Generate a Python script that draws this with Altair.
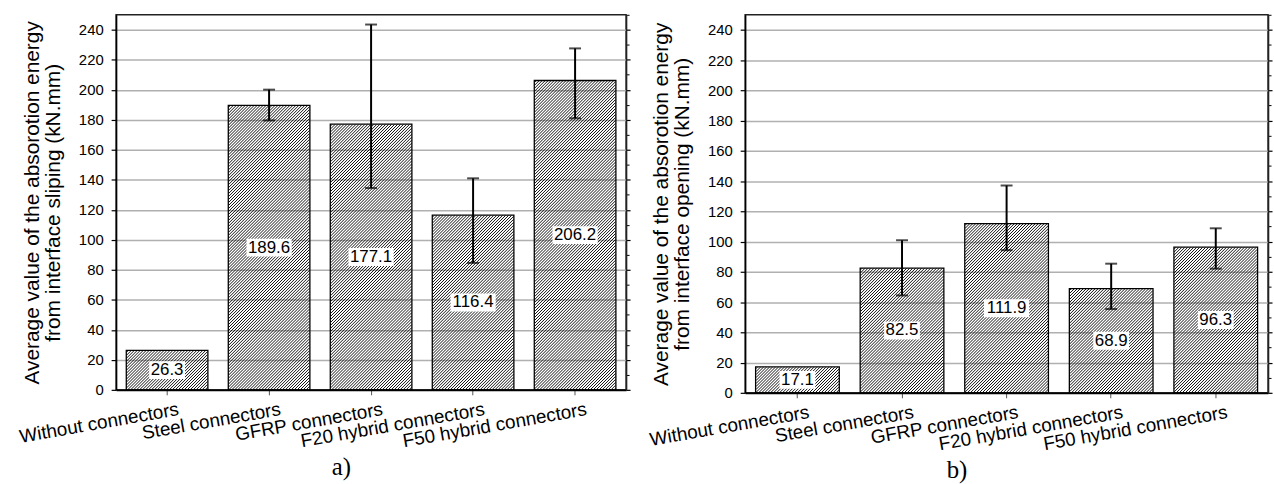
import altair as alt
import pandas as pd

categories = ["Without connectors", "Steel connectors", "GFRP connectors",
              "F20 hybrid connectors", "F50 hybrid connectors"]

slip_values = [26.3, 189.6, 177.1, 116.4, 206.2]
slip_err_low = [None, 179.6, 134.5, 84.6, 181.0]
slip_err_high = [None, 200.1, 243.5, 141.0, 227.6]

open_values = [17.1, 82.5, 111.9, 68.9, 96.3]
open_err_low = [None, 64.4, 94.3, 55.4, 82.1]
open_err_high = [None, 100.9, 137.1, 85.4, 108.8]

y_major = list(range(0, 241, 20))
y_minor = list(range(10, 251, 20))
y_max = 250

slip_title = ["Average value of the absorotion energy", "from interface sliping (kN.mm)"]
open_title = ["Average value of the absorotion energy", "from interface opening (kN.mm)"]

FONT = "Liberation Sans"
LABEL_FS = 17


def hatch_path(w, h, period=3.0):
    """SVG path of '/' hatch lines filling a w x h box centred on (0, 0)."""
    parts = []
    s = period / 2
    while s < w + h:
        u1 = min(s, w)
        v1 = s - u1
        v2 = min(s, h)
        u2 = s - v2
        parts.append(f"M{u1 - w / 2:.2f},{v1 - h / 2:.2f}L{u2 - w / 2:.2f},{v2 - h / 2:.2f}")
        s += period
    return "".join(parts)


def text_width(s, fs):
    return sum((0.278 if ch == "." else 0.556) for ch in s) * fs


def panel(values, lo, hi, ytitle, caption, W, H, cap_dx):
    labels = [f"{v:.1f}" for v in values]
    step = W / 5.0
    bw = step * 0.8
    boxes, hatches = [], []
    for v, s in zip(values, labels):
        half_w = (text_width(s, LABEL_FS) + 3) / 2
        half_h = 9
        boxes.append(f"M{-half_w},{-half_h}L{half_w},{-half_h}L{half_w},{half_h}L{-half_w},{half_h}Z")
        hatches.append(hatch_path(bw - 0.6, v / y_max * H - 0.6))
    df = pd.DataFrame({"cat": categories, "val": values, "lo": lo, "hi": hi,
                       "label": labels, "box": boxes, "hatch": hatches})
    base = alt.Chart(df).transform_calculate(mid="datum.val / 2")

    xenc = alt.X("cat:N", title=None,
                 scale=alt.Scale(domain=categories, paddingInner=0.2, paddingOuter=0.1),
                 axis=alt.Axis(labelAngle=-10, labelAlign="right", labelBaseline="top",
                               labelFontSize=19, labelFont=FONT, labelColor="black",
                               labelLimit=400, labelOverlap=False,
                               labelPadding=5, labelOffset=10, tickSize=5, tickColor="#555555",
                               domainColor="black", domainWidth=2, grid=False))
    yscale = alt.Scale(domain=[0, y_max], nice=False)

    major_axis = alt.Axis(values=y_major, title=ytitle, titleFontSize=21,
                          titleFont=FONT, titleFontWeight="normal", titleColor="black",
                          titlePadding=15, titleLineHeight=21,
                          labelFontSize=15, labelFont=FONT, labelColor="black", labelPadding=8,
                          tickSize=5, tickColor="black", tickWidth=1.2,
                          domainColor="black", domainWidth=1.5,
                          grid=True, gridColor="#b0b0b0", gridWidth=1.5)
    minor_axis = alt.Axis(values=y_minor, title=None, labels=False, domain=False,
                          grid=False, tickSize=3, tickColor="black", tickWidth=1)
    right_axis = alt.Axis(values=y_major, orient="right", title=None, labels=False,
                          domain=True, domainColor="#222222", domainWidth=1.5,
                          grid=False, tickSize=4, tickColor="black", tickWidth=1.2)

    layers = [
        base.mark_bar(opacity=0).encode(x=xenc, y=alt.Y("val:Q", scale=yscale, axis=major_axis)),
        base.mark_bar(opacity=0).encode(x=xenc, y=alt.Y("val:Q", scale=yscale, axis=minor_axis)),
        base.mark_bar(opacity=0).encode(x=xenc, y=alt.Y("val:Q", scale=yscale, axis=right_axis)),
        # hatch texture inside each bar
        base.mark_point(filled=False, fill="transparent", stroke="#111111", strokeWidth=1.0,
                        opacity=1).encode(
            x=xenc, y=alt.Y("mid:Q", scale=yscale, axis=None),
            shape=alt.Shape("hatch:N", scale=None, legend=None), size=alt.value(4)),
        # bar outlines
        base.mark_bar(fill="transparent", stroke="black", strokeWidth=1.3).encode(
            x=xenc, y=alt.Y("val:Q", scale=yscale, axis=None)),
    ]

    err = base.transform_filter("isValid(datum.hi)")
    layers.append(err.mark_rule(color="black", strokeWidth=2).encode(
        x=xenc, y=alt.Y("lo:Q", scale=yscale, axis=None), y2="hi:Q"))
    layers.append(err.mark_tick(color="black", size=12, thickness=2).encode(
        x=xenc, y=alt.Y("lo:Q", scale=yscale, axis=None)))
    layers.append(err.mark_tick(color="black", size=12, thickness=2).encode(
        x=xenc, y=alt.Y("hi:Q", scale=yscale, axis=None)))

    layers.append(base.mark_point(filled=True, fill="white", opacity=1, strokeWidth=0).encode(
        x=xenc, y=alt.Y("mid:Q", scale=yscale, axis=None),
        shape=alt.Shape("box:N", scale=None, legend=None), size=alt.value(4)))
    layers.append(base.mark_text(fontSize=LABEL_FS, font=FONT, color="black",
                                 baseline="middle", align="center").encode(
        x=xenc, y=alt.Y("mid:Q", scale=yscale, axis=None), text="label:N"))

    return alt.layer(*layers).resolve_axis(y="independent").properties(
        width=W, height=H,
        title=alt.TitleParams(caption, orient="bottom", font="Liberation Serif",
                              fontSize=25, fontWeight="normal", color="black",
                              anchor="middle", dx=cap_dx, offset=4))


left = panel(slip_values, slip_err_low, slip_err_high, slip_title, "a)", 514, 378, -30)
right = panel(open_values, open_err_low, open_err_high, open_title, "b)", 527, 381, -50)

chart = alt.hconcat(left, right, spacing=15).properties(
    padding={"left": 16, "top": 11, "right": 0, "bottom": 0}
).configure_view(stroke="#222222", strokeWidth=1.5)

chart.save("out.html", embed_options={"renderer": "svg", "actions": False})
